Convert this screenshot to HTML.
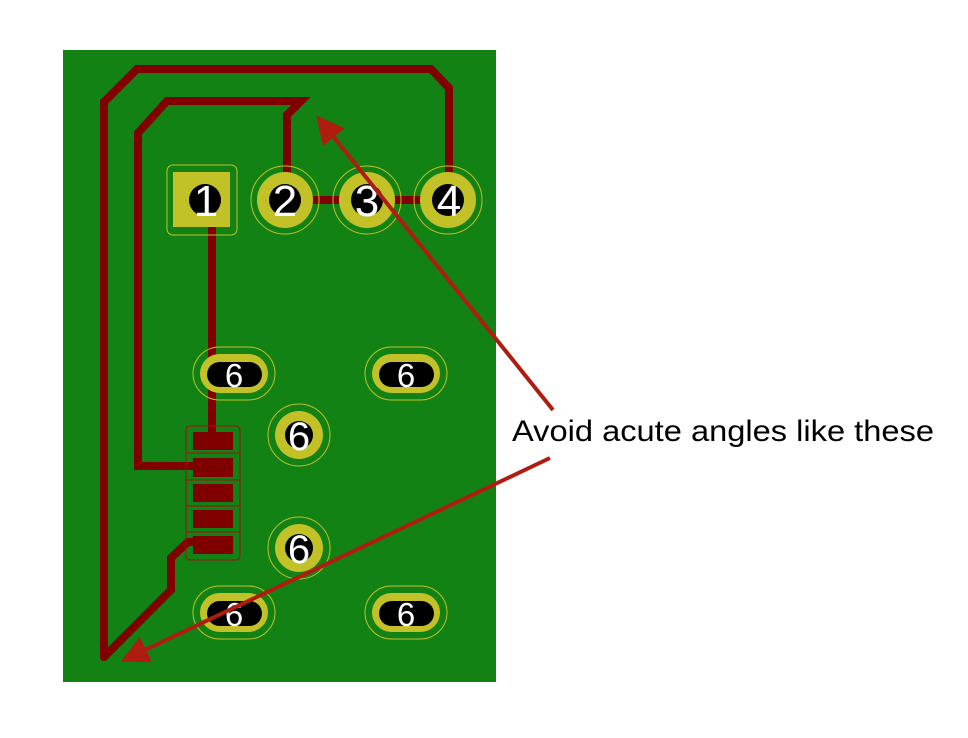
<!DOCTYPE html>
<html><head><meta charset="utf-8"><style>
html,body{margin:0;padding:0;background:#fff;}
svg{display:block;}
</style></head><body>
<svg width="968" height="738" viewBox="0 0 968 738" xmlns="http://www.w3.org/2000/svg">
<defs>
<marker id="ah" markerWidth="7" markerHeight="7" refX="5.5" refY="3.5" orient="auto" markerUnits="strokeWidth"><path d="M0,0 L7,3.5 L0,7 Z" fill="#b01c10"/></marker>
</defs>
<rect x="63" y="50" width="433" height="632" fill="#138214"/>
<g fill="none" stroke="#800000" stroke-width="8" stroke-linejoin="miter" stroke-linecap="round">
<polyline points="104,657 104,102 137,69 431,69 449,88 449,200"/>
<polyline points="200,466 138,466 138,133 167,101 301,101 287,115 287,200"/>
<polyline points="212,200 212,440"/>
<polyline points="287,200 449,200"/>
<polyline points="200,542 188,542 171,558 171,590 104,657"/>
</g>
<g>
<rect x="186" y="426" width="54" height="134" rx="4" fill="none" stroke="#a01010" stroke-width="1"/>
<rect x="193" y="432" width="40" height="18" fill="#800000"/>
<rect x="193" y="458" width="40" height="19" fill="#800000"/>
<rect x="193" y="484" width="40" height="18" fill="#800000"/>
<rect x="193" y="510" width="40" height="18" fill="#800000"/>
<rect x="193" y="536" width="40" height="18" fill="#800000"/>
<g stroke="#a01010" stroke-width="1" fill="none"><line x1="186" y1="453" x2="240" y2="453"/><line x1="186" y1="480" x2="240" y2="480"/><line x1="186" y1="506" x2="240" y2="506"/><line x1="186" y1="532" x2="240" y2="532"/></g>
</g>
<g font-family="Liberation Sans, sans-serif" fill="#fff" text-anchor="middle">
<g>
<rect x="167" y="165" width="70" height="70" rx="6" fill="none" stroke="#c2c127" stroke-width="1"/>
<rect x="173" y="172" width="57" height="55" fill="#c2c127"/>
<circle cx="205" cy="200" r="16" fill="#000"/>
<text x="206" y="216" font-size="44">1</text></g>
<g><circle cx="285" cy="200" r="34" fill="none" stroke="#c2c127" stroke-width="1"/><circle cx="285" cy="200" r="28" fill="#c2c127"/><circle cx="285" cy="200" r="16" fill="#000"/><text x="285" y="216" font-size="44">2</text></g>
<g><circle cx="367" cy="200" r="34" fill="none" stroke="#c2c127" stroke-width="1"/><circle cx="367" cy="200" r="28" fill="#c2c127"/><circle cx="367" cy="200" r="16" fill="#000"/><text x="367" y="216" font-size="44">3</text></g>
<g><circle cx="448" cy="200" r="34" fill="none" stroke="#c2c127" stroke-width="1"/><circle cx="448" cy="200" r="28" fill="#c2c127"/><circle cx="448" cy="200" r="16" fill="#000"/><text x="449" y="216" font-size="44">4</text></g>
<g><rect x="193" y="347" width="82" height="53" rx="26.5" fill="none" stroke="#c2c127" stroke-width="1"/><rect x="200" y="354" width="68" height="39" rx="19.5" fill="#c2c127"/><rect x="207" y="362" width="55" height="25" rx="12.5" fill="#000"/><text x="234" y="387" font-size="33">6</text></g>
<g><rect x="365" y="347" width="82" height="53" rx="26.5" fill="none" stroke="#c2c127" stroke-width="1"/><rect x="372" y="354" width="68" height="39" rx="19.5" fill="#c2c127"/><rect x="379" y="362" width="55" height="25" rx="12.5" fill="#000"/><text x="406" y="387" font-size="33">6</text></g>
<g><rect x="193" y="586" width="82" height="53" rx="26.5" fill="none" stroke="#c2c127" stroke-width="1"/><rect x="200" y="593" width="68" height="39" rx="19.5" fill="#c2c127"/><rect x="207" y="601" width="55" height="25" rx="12.5" fill="#000"/><text x="234" y="626" font-size="33">6</text></g>
<g><rect x="365" y="586" width="82" height="53" rx="26.5" fill="none" stroke="#c2c127" stroke-width="1"/><rect x="372" y="593" width="68" height="39" rx="19.5" fill="#c2c127"/><rect x="379" y="601" width="55" height="25" rx="12.5" fill="#000"/><text x="406" y="626" font-size="33">6</text></g>
<g><circle cx="299" cy="435" r="31" fill="none" stroke="#c2c127" stroke-width="1"/><circle cx="299" cy="435" r="24" fill="#c2c127"/><circle cx="299" cy="435" r="14" fill="#000"/><text x="299" y="450" font-size="40">6</text></g>
<g><circle cx="299" cy="548" r="31" fill="none" stroke="#c2c127" stroke-width="1"/><circle cx="299" cy="548" r="24" fill="#c2c127"/><circle cx="299" cy="548" r="14" fill="#000"/><text x="299" y="563" font-size="40">6</text></g>
</g>
<g stroke="#b01c10" stroke-width="4" fill="none">
<line x1="553" y1="410" x2="320" y2="120" marker-end="url(#ah)"/>
<line x1="550" y1="458" x2="126" y2="659" marker-end="url(#ah)"/>
</g>
<text x="512" y="441" font-family="Liberation Sans, sans-serif" font-size="30" fill="#000" textLength="422" lengthAdjust="spacingAndGlyphs">Avoid acute angles like these</text>
</svg>
</body></html>
